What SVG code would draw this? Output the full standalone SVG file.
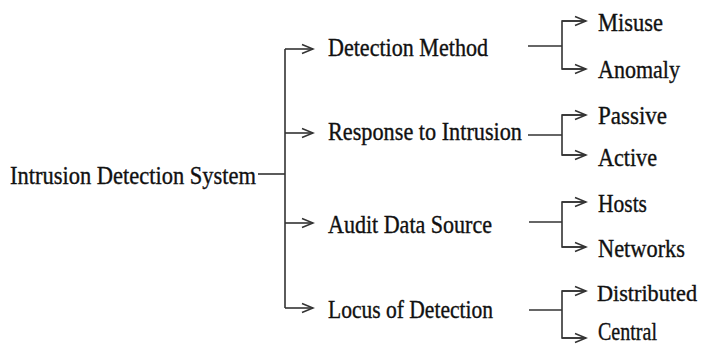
<svg xmlns="http://www.w3.org/2000/svg" width="704" height="345" viewBox="0 0 704 345">
<defs>
<style>
text{font-family:"Liberation Serif","Times New Roman",serif;font-size:25px;fill:#111;stroke:#111;stroke-width:0.35;}
.c line,.c polyline{stroke:#333;stroke-width:1.6;fill:none;}
</style>
<marker id="ah" markerUnits="userSpaceOnUse" markerWidth="14" markerHeight="12" refX="12" refY="6" orient="auto">
<path d="M1,1.5 L12,6 L1,10.5" fill="none" stroke="#333" stroke-width="1.5"/>
</marker>
</defs>
<rect width="704" height="345" fill="#fff"/>
<g id="connectors" class="c">
<line x1="258" y1="174" x2="285" y2="174"/>
<line x1="285" y1="49" x2="285" y2="308"/>
<line x1="285" y1="49" x2="313" y2="49" marker-end="url(#ah)"/>
<line x1="285" y1="133" x2="313" y2="133" marker-end="url(#ah)"/>
<line x1="285" y1="223" x2="313" y2="223" marker-end="url(#ah)"/>
<line x1="285" y1="308" x2="313" y2="308" marker-end="url(#ah)"/>
<line x1="528" y1="46" x2="562" y2="46"/>
<polyline points="586,21 562,21 562,69 586,69"/>
<line x1="562" y1="21" x2="586" y2="21" marker-end="url(#ah)"/>
<line x1="562" y1="69" x2="586" y2="69" marker-end="url(#ah)"/>
<line x1="528" y1="135" x2="562" y2="135"/>
<polyline points="586,115 562,115 562,155 586,155"/>
<line x1="562" y1="115" x2="586" y2="115" marker-end="url(#ah)"/>
<line x1="562" y1="155" x2="586" y2="155" marker-end="url(#ah)"/>
<line x1="529" y1="222" x2="562" y2="222"/>
<polyline points="586,202 562,202 562,247 586,247"/>
<line x1="562" y1="202" x2="586" y2="202" marker-end="url(#ah)"/>
<line x1="562" y1="247" x2="586" y2="247" marker-end="url(#ah)"/>
<line x1="529" y1="310" x2="562" y2="310"/>
<polyline points="586,291 562,291 562,338 586,338"/>
<line x1="562" y1="291" x2="586" y2="291" marker-end="url(#ah)"/>
<line x1="562" y1="338" x2="586" y2="338" marker-end="url(#ah)"/>
</g>
<g id="root"><text x="10" y="184" textLength="246" lengthAdjust="spacingAndGlyphs">Intrusion Detection System</text></g>
<g id="detection-method"><text x="328" y="56" textLength="160" lengthAdjust="spacingAndGlyphs">Detection Method</text></g>
<g id="response"><text x="328" y="140" textLength="194" lengthAdjust="spacingAndGlyphs">Response to Intrusion</text></g>
<g id="audit"><text x="328" y="233" textLength="164" lengthAdjust="spacingAndGlyphs">Audit Data Source</text></g>
<g id="locus"><text x="328" y="318" textLength="165" lengthAdjust="spacingAndGlyphs">Locus of Detection</text></g>
<g id="misuse"><text x="598" y="31" textLength="65" lengthAdjust="spacingAndGlyphs">Misuse</text></g>
<g id="anomaly"><text x="598" y="78" textLength="82" lengthAdjust="spacingAndGlyphs">Anomaly</text></g>
<g id="passive"><text x="598" y="124" textLength="69" lengthAdjust="spacingAndGlyphs">Passive</text></g>
<g id="active"><text x="598" y="166" textLength="59" lengthAdjust="spacingAndGlyphs">Active</text></g>
<g id="hosts"><text x="598" y="212" textLength="49" lengthAdjust="spacingAndGlyphs">Hosts</text></g>
<g id="networks"><text x="598" y="257" textLength="87" lengthAdjust="spacingAndGlyphs">Networks</text></g>
<g id="distributed"><text x="597" y="301" style="font-size:23px" textLength="100" lengthAdjust="spacingAndGlyphs">Distributed</text></g>
<g id="central"><text x="598" y="340" textLength="59" lengthAdjust="spacingAndGlyphs">Central</text></g>
</svg>
